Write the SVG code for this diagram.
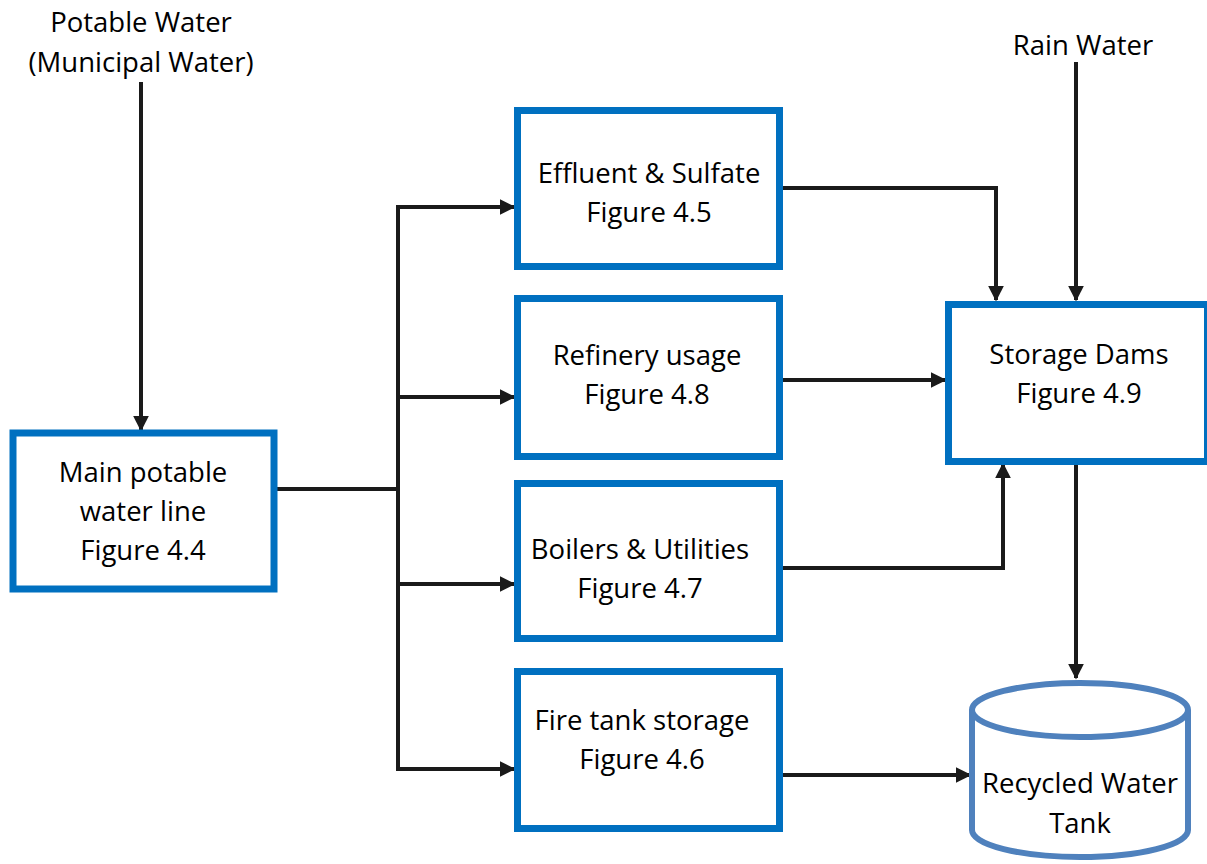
<svg xmlns="http://www.w3.org/2000/svg" width="1207" height="864" viewBox="0 0 1207 864">
  <style>
    .box { fill: #ffffff; stroke: #0070c0; stroke-width: 7; }
    .tank { fill: #ffffff; stroke: #4f81bd; stroke-width: 6; }
    .lbl { font-family: "Open Sans", "Liberation Sans", sans-serif; font-size: 27.5px; fill: #000000; text-anchor: middle; }
    .wire { fill: none; stroke: #1a1a1a; stroke-width: 4; stroke-linejoin: miter; stroke-linecap: butt; }
  </style>
  <defs>
    <marker id="arrow" viewBox="0 0 10 10" refX="9" refY="5" markerWidth="4" markerHeight="4" orient="auto" markerUnits="strokeWidth">
      <path d="M0,0 L10,5 L0,10 Z" fill="#1a1a1a"/>
    </marker>
  </defs>

  <rect width="1207" height="864" fill="#ffffff"/>

  <!-- free-standing source labels -->
  <g id="potable-source">
    <text class="lbl" x="141" y="32">Potable Water</text>
    <text class="lbl" x="141" y="72">(Municipal Water)</text>
  </g>
  <g id="rain-source">
    <text class="lbl" x="1083" y="55">Rain Water</text>
  </g>

  <!-- connectors -->
  <g id="connectors">
    <path class="wire" d="M141,82 V430" marker-end="url(#arrow)"/>
    <path class="wire" d="M277,489 H398"/>
    <path class="wire" d="M398,205 V771"/>
    <path class="wire" d="M396,207 H514" marker-end="url(#arrow)"/>
    <path class="wire" d="M398,397 H514" marker-end="url(#arrow)"/>
    <path class="wire" d="M398,584 H514" marker-end="url(#arrow)"/>
    <path class="wire" d="M396,769 H514" marker-end="url(#arrow)"/>
    <path class="wire" d="M782,188 H996 V300" marker-end="url(#arrow)"/>
    <path class="wire" d="M1076,62 V300" marker-end="url(#arrow)"/>
    <path class="wire" d="M782,380 H945" marker-end="url(#arrow)"/>
    <path class="wire" d="M782,568 H1003 V464" marker-end="url(#arrow)"/>
    <path class="wire" d="M1076,464 V678" marker-end="url(#arrow)"/>
    <path class="wire" d="M780,775 H970" marker-end="url(#arrow)"/>
  </g>

  <g id="main-line">
    <rect class="box" x="13" y="433" width="261" height="156"/>
    <text class="lbl" x="143" y="482">Main potable</text>
    <text class="lbl" x="143" y="521">water line</text>
    <text class="lbl" x="143" y="560">Figure 4.4</text>
  </g>

  <g id="effluent">
    <rect class="box" x="517.5" y="110.5" width="262" height="156"/>
    <text class="lbl" x="649" y="183">Effluent &amp; Sulfate</text>
    <text class="lbl" x="649" y="222">Figure 4.5</text>
  </g>

  <g id="refinery">
    <rect class="box" x="517.5" y="298.5" width="262" height="158"/>
    <text class="lbl" x="647" y="365">Refinery usage</text>
    <text class="lbl" x="647" y="404">Figure 4.8</text>
  </g>

  <g id="boilers">
    <rect class="box" x="517.5" y="483.5" width="262" height="155"/>
    <text class="lbl" x="640" y="559">Boilers &amp; Utilities</text>
    <text class="lbl" x="640" y="598">Figure 4.7</text>
  </g>

  <g id="fire-tank">
    <rect class="box" x="517.5" y="671.5" width="262" height="157"/>
    <text class="lbl" x="642" y="730">Fire tank storage</text>
    <text class="lbl" x="642" y="769">Figure 4.6</text>
  </g>

  <g id="storage-dams">
    <rect class="box" x="948.5" y="304.5" width="259" height="157"/>
    <text class="lbl" x="1079" y="364">Storage Dams</text>
    <text class="lbl" x="1079" y="403">Figure 4.9</text>
  </g>

  <g id="recycled-tank">
    <path class="tank" d="M972,710 V830 A108,27 0 0 0 1188,830 V710"/>
    <ellipse class="tank" cx="1080" cy="710" rx="108" ry="27"/>
    <text class="lbl" x="1080" y="793">Recycled Water</text>
    <text class="lbl" x="1080" y="833">Tank</text>
  </g>
</svg>
